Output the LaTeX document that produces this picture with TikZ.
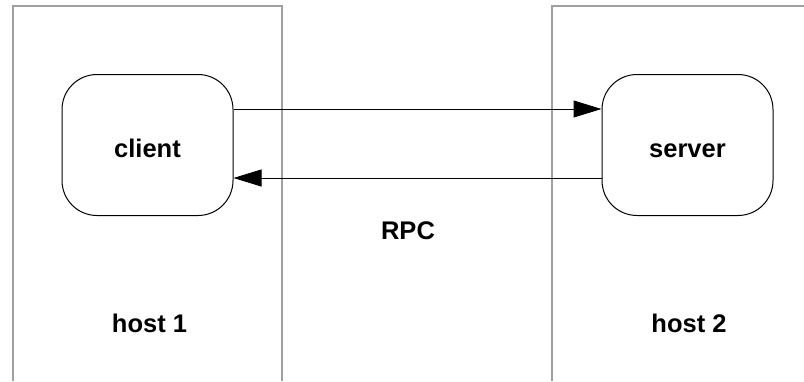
\documentclass[tikz,border=0pt]{standalone}
\usepackage{fontspec}
\setmainfont{Liberation Sans}
\usetikzlibrary{positioning, arrows.meta}
\definecolor{hostgray}{RGB}{160,160,160}

\begin{document}
\begin{tikzpicture}[x=1pt, y=-1pt, >={Triangle[length=28pt, width=17pt]}, auto, node distance=368pt, line width=1pt,
    proc node/.style={draw, rounded corners=35pt, minimum width=171pt, minimum height=141pt, font=\fontsize{25.5}{30}\selectfont\bfseries, text height=25pt, text depth=0pt},
    label node/.style={font=\fontsize{25.5}{30}\selectfont\bfseries},
    host box/.style={draw=hostgray, line width=1.2pt}]
                \useasboundingbox (0,0) rectangle (804,381);

                % hosts
                \draw[host box] (13,381) -- (13,6) -- (282,6) -- (282,381);
                \draw[host box] (552,381) -- (552,6) -- (805,6);

                \node[proc node] (client) at (147.5,145) {client};
                \node[proc node] (server) [right = of client] {server};

                \node[label node] (h1) at (149.5,323.5) {host 1};
                \node[label node] (h2) at (689,323.5) {host 2};
                \node[label node] (rpc) at (408,230.5) {RPC};

                \path[->]
                    ([yshift=36pt]client.east) edge ([yshift=36pt]server.west)
                    ([yshift=-33pt]server.west) edge ([yshift=-33pt]client.east)
                ;
            \end{tikzpicture}
\end{document}
